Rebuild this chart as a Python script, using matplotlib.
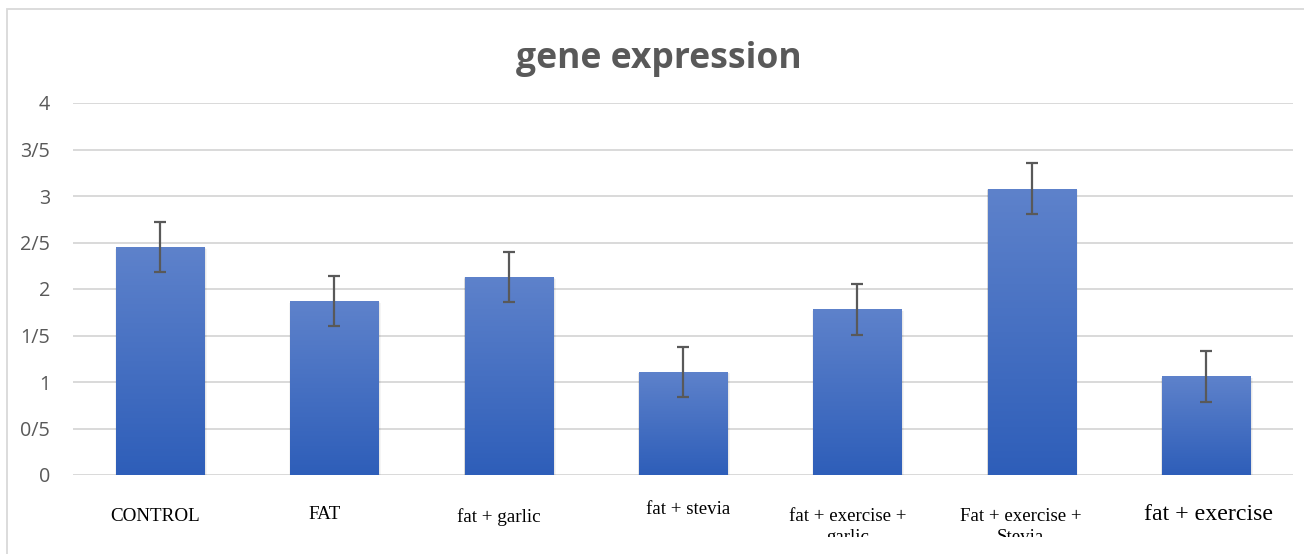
import matplotlib.pyplot as plt
import numpy as np
from matplotlib.colors import LinearSegmentedColormap
from matplotlib.patches import Rectangle
from matplotlib.transforms import Bbox, blended_transform_factory

categories = [
    "CONTROL",
    "FAT",
    "fat + garlic",
    "fat + stevia",
    "fat + exercise +\ngarlic",
    "Fat + exercise +\nStevia",
    "fat + exercise",
]
values = [2.45, 1.87, 2.13, 1.11, 1.78, 3.08, 1.06]
errors = [0.27, 0.27, 0.27, 0.27, 0.27, 0.27, 0.27]
y_ticks = [0, 0.5, 1, 1.5, 2, 2.5, 3, 3.5, 4]
y_tick_labels = ["0", "0/5", "1", "1/5", "2", "2/5", "3", "3/5", "4"]

# label tweaks: (x offset in category units, baseline y from top in px, font size)
label_style = [
    (-0.026, 521, 13.7),
    (-0.057, 519, 13.7),
    (-0.055, 522, 13.7),
    (0.029, 514, 13.6),
    (-0.057, 521, 13.6),
    (-0.063, 521, 13.6),
    (0.014, 520, 17.2),
]

W, H = 1304, 554
fig = plt.figure(figsize=(W / 100, H / 100), dpi=100)
ax = fig.add_axes([73 / W, 1 - 475 / H, (1293 - 73) / W, (475 - 103) / H])

x = np.arange(len(categories))
bar_w = 0.505
ax.set_xlim(-0.5, len(categories) - 0.5)
ax.set_ylim(0, 4)

for y in y_ticks:
    ax.axhline(y, color="#d9d9d9", lw=1.4, zorder=0)

# gradient fill for each bar, with a soft shadow
grad = np.linspace(0, 1, 256).reshape(-1, 1)
cmap = LinearSegmentedColormap.from_list("bar", ["#2e5eb9", "#5e82cb"])
for xi, v in zip(x, values):
    for k, a in enumerate([0.06, 0.05, 0.04]):
        d = 0.006 * (k + 1)
        ax.add_patch(Rectangle((xi - bar_w / 2 - d * 0.3, -0.02 - d * 2), bar_w + d * 1.2, v + 0.02 + d,
                               color="black", alpha=a, lw=0, zorder=1))
    rect = Rectangle((xi - bar_w / 2, 0), bar_w, v, lw=0, facecolor="none", zorder=2)
    ax.add_patch(rect)
    im = ax.imshow(grad, extent=(xi - bar_w / 2, xi + bar_w / 2, 0, v), origin="lower",
                   cmap=cmap, aspect="auto", zorder=2)
    im.set_clip_path(rect)

ax.errorbar(x, values, yerr=errors, fmt="none", ecolor="#595959", elinewidth=1.6,
            capsize=4.5, capthick=1.6, zorder=3)

for s in ax.spines.values():
    s.set_visible(False)
ax.set_xticks([])
ax.set_yticks(y_ticks)
ax.set_yticklabels(y_tick_labels, family="Open Sans", fontsize=14.2, color="#595959")
ax.tick_params(axis="y", length=0, pad=16.5)
ax.set_xlim(-0.5, len(categories) - 0.5)
ax.set_ylim(0, 4)

# category labels sit below the axis, clipped at the bottom like the source
clip = Bbox.from_extents(0, H - 537, W, H)
trans = blended_transform_factory(ax.transData, fig.transFigure)
for xi, lab, (dx, ypx, fs) in zip(x, categories, label_style):
    lines = lab.split("\n")
    for j, line in enumerate(lines):
        t = ax.text(xi + dx, 1 - (ypx + j * 21) / H, line, transform=trans, ha="center",
                    va="baseline", family="Liberation Serif", fontsize=fs, color="black",
                    clip_on=True)
        t.set_clip_box(clip)

fig.text(659 / W, 1 - 59 / H, "gene expression", ha="center", va="center",
         family="Open Sans", fontweight="bold", fontsize=25.6, color="#595959")

# outer chart border
fig.add_artist(Rectangle((6.5 / W, -0.1), 1.2, 1 - 9.5 / H + 0.1, transform=fig.transFigure,
                         fill=False, edgecolor="#d9d9d9", lw=1.3))

fig.savefig("out.png", dpi=100)
